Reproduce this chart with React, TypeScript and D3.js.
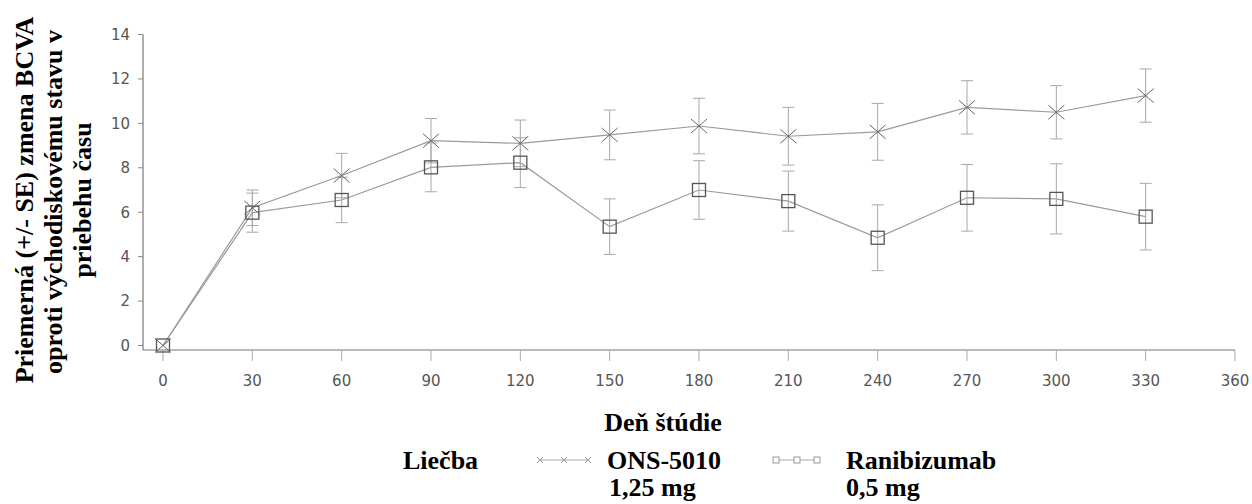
import React from "react";
import * as d3 from "d3";

// study days
const days = [0, 30, 60, 90, 120, 150, 180, 210, 240, 270, 300, 330];

// ONS-5010 1,25 mg: mean change and SE
const onsMean = [0, 6.2, 7.65, 9.22, 9.1, 9.48, 9.88, 9.42, 9.62, 10.72, 10.5, 11.25];
const onsSe = [0, 0.8, 1.0, 1.0, 1.05, 1.12, 1.25, 1.3, 1.28, 1.2, 1.2, 1.2];

// Ranibizumab 0,5 mg
const ranMean = [0, 5.98, 6.55, 8.02, 8.23, 5.35, 7.0, 6.5, 4.85, 6.65, 6.6, 5.8];
const ranSe = [0, 0.88, 1.02, 1.1, 1.12, 1.25, 1.32, 1.35, 1.48, 1.5, 1.58, 1.5];

const xTicks = [0, 30, 60, 90, 120, 150, 180, 210, 240, 270, 300, 330, 360];
const yTicks = [0, 2, 4, 6, 8, 10, 12, 14];

const yTitle = [
  "Priemerná (+/- SE) zmena BCVA",
  "oproti východiskovému stavu v",
  "priebehu času",
];

const W = 1252;
const H = 504;
const serif = "'Liberation Serif', 'Times New Roman', serif";
const sans = "'DejaVu Sans', sans-serif";

export default function App() {
  const x = d3.scaleLinear().domain([0, 360]).range([163, 1235]);
  const y = d3.scaleLinear().domain([0, 14]).range([345.5, 34.5]);
  const axisY = 350;
  const axisX = 143;

  const line = d3
    .line<number>()
    .x((_, i) => x(days[i]))
    .y((d) => y(d));

  const errBars = (mean: number[], se: number[], key: string) =>
    mean.map((m, i) =>
      se[i] > 0 ? (
        <g key={key + i} stroke="#a8a8a8" strokeWidth={1}>
          <line x1={x(days[i])} x2={x(days[i])} y1={y(m + se[i])} y2={y(m - se[i])} />
          <line x1={x(days[i]) - 6} x2={x(days[i]) + 6} y1={y(m + se[i])} y2={y(m + se[i])} />
          <line x1={x(days[i]) - 6} x2={x(days[i]) + 6} y1={y(m - se[i])} y2={y(m - se[i])} />
        </g>
      ) : null
    );

  const cross = (cx: number, cy: number, w: number, h: number, key: string, color: string) => (
    <path
      key={key}
      d={`M${cx - w},${cy - h}L${cx + w},${cy + h}M${cx - w},${cy + h}L${cx + w},${cy - h}`}
      stroke={color}
      strokeWidth={1}
      fill="none"
    />
  );

  return (
    <svg
      width={W}
      height={H}
      style={{ position: "absolute", left: 0, top: 0, background: "#fff" }}
    >
      {/* y axis title */}
      <g transform="translate(0,200) rotate(-90)" fontFamily={serif} fontWeight="bold" fontSize={26} fill="#000">
        {yTitle.map((t, i) => (
          <text key={i} x={i === 1 ? -2 : 0} y={33 + i * 29} textAnchor="middle">
            {t}
          </text>
        ))}
      </g>

      {/* axes */}
      <line x1={axisX} x2={axisX} y1={y(14)} y2={axisY} stroke="#777" strokeWidth={1.2} />
      <line x1={axisX} x2={x(360)} y1={axisY} y2={axisY} stroke="#777" strokeWidth={1.2} />
      {yTicks.map((t) => (
        <g key={"yt" + t}>
          <line x1={axisX - 5} x2={axisX} y1={y(t)} y2={y(t)} stroke="#888" />
          <text
            x={130}
            y={y(t)}
            dy="0.36em"
            textAnchor="end"
            fontFamily={sans}
            fontSize={15}
            fill="#555"
          >
            {t}
          </text>
        </g>
      ))}
      {xTicks.map((t) => (
        <g key={"xt" + t}>
          <line x1={x(t)} x2={x(t)} y1={axisY} y2={axisY + 11} stroke="#aaa" />
          <text
            x={x(t)}
            y={386}
            textAnchor="middle"
            fontFamily={sans}
            fontSize={15}
            fill="#555"
          >
            {t}
          </text>
        </g>
      ))}

      {/* series lines */}
      <path d={line(ranMean) || ""} fill="none" stroke="#9a9a9a" strokeWidth={1.2} />
      <path d={line(onsMean) || ""} fill="none" stroke="#9a9a9a" strokeWidth={1.2} />

      {errBars(ranMean, ranSe, "re")}
      {errBars(onsMean, onsSe, "oe")}

      {/* markers */}
      {ranMean.map((m, i) => (
        <rect
          key={"rm" + i}
          x={x(days[i]) - 6.5}
          y={y(m) - 6.5}
          width={13}
          height={13}
          fill="none"
          stroke="#555"
          strokeWidth={1.3}
        />
      ))}
      {onsMean.map((m, i) => cross(x(days[i]), y(m), 8, 7, "om" + i, "#666"))}

      {/* x axis title */}
      <text x={663} y={431} textAnchor="middle" fontFamily={serif} fontWeight="bold" fontSize={26}>
        Deň štúdie
      </text>

      {/* legend */}
      <g fontFamily={serif} fontWeight="bold" fontSize={26} fill="#000">
        <text x={403} y={469}>Liečba</text>
        <text x={607} y={469}>ONS-5010</text>
        <text x={609} y={496}>1,25 mg</text>
        <text x={846} y={469}>Ranibizumab</text>
        <text x={846} y={496}>0,5 mg</text>
      </g>
      <line x1={540} x2={588} y1={460} y2={460} stroke="#aaa" strokeWidth={1} />
      {[540, 564, 588].map((cx, i) => cross(cx, 460, 3, 3, "lo" + i, "#999"))}
      <line x1={773} x2={820} y1={460} y2={460} stroke="#aaa" strokeWidth={1} />
      {[776, 797, 817].map((cx) => (
        <rect key={"lr" + cx} x={cx - 3} y={457} width={6} height={6} fill="#fff" stroke="#999" strokeWidth={1} />
      ))}
    </svg>
  );
}
